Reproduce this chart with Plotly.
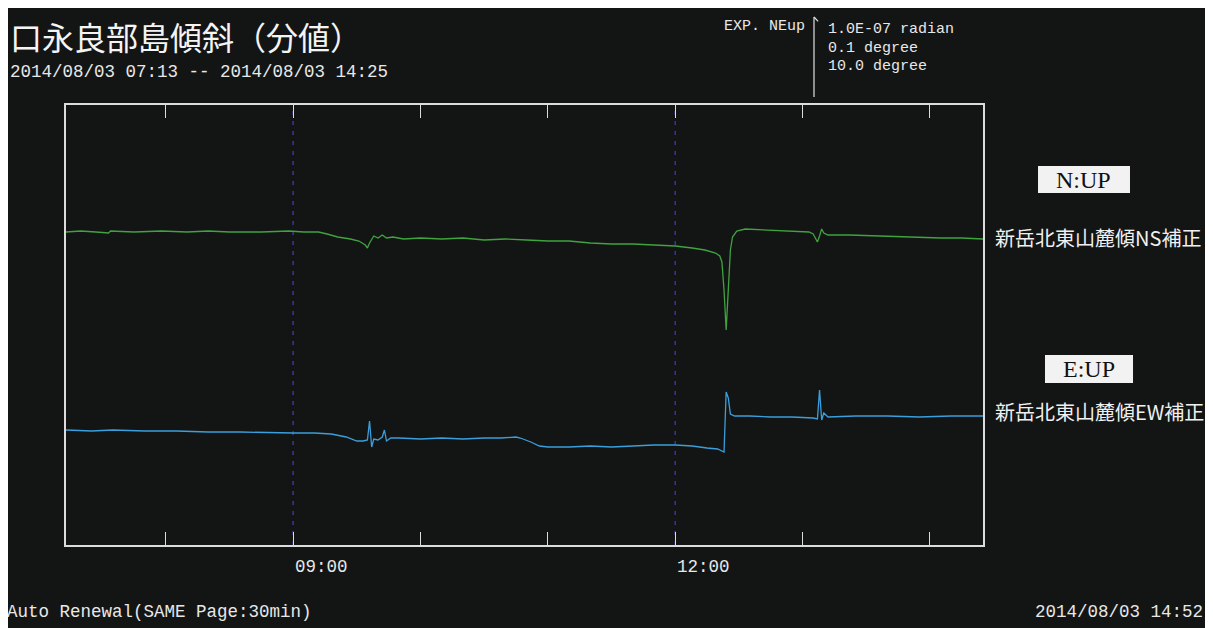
import plotly.graph_objects as go

DATE = "2014-08-03 "

# NS tilt (green), arbitrary tilt units
ns_times = ["07:13","07:20","07:27","07:33","07:34","07:45","07:58","08:10","08:20","08:30",
            "08:45","08:58","09:05","09:12","09:16","09:21","09:27","09:31","09:34","09:35",
            "09:36","09:37","09:38","09:40","09:42","09:44","09:47","09:52","10:00","10:10",
            "10:20","10:30","10:40","10:50","11:00","11:10","11:20","11:30","11:40","11:50",
            "12:00","12:08","12:14","12:19","12:21","12:22","12:23","12:24","12:25","12:26",
            "12:27","12:29","12:33","12:45","12:55","13:03","13:05","13:07","13:08","13:09",
            "13:10","13:12","13:22","13:35","13:50","14:05","14:15","14:25"]
ns_values = [313,314,313,312,314,313,314,313,314,313,
             313,314,313,313,311,308,306,304,300,297,
             302,306,309,307,310,307,308,306,307,306,
             307,305,306,305,304,304,302,301,301,300,
             299,297,295,292,289,283,255,215,253,295,
             308,314,316,315,314,313,311,303,309,316,
             312,310,310,309,308,307,307,306]

# EW tilt (blue)
ew_times = ["07:13","07:25","07:35","07:50","08:05","08:20","08:35","08:50","09:00","09:10",
            "09:18","09:25","09:30","09:33","09:35","09:36","09:37","09:38","09:40","09:42",
            "09:43","09:44","09:46","09:50","10:00","10:10","10:20","10:30","10:38","10:45",
            "10:47","10:52","10:56","11:00","11:10","11:20","11:30","11:40","11:50","12:00",
            "12:08","12:15","12:20","12:23","12:24","12:25","12:26","12:28","12:35","12:45",
            "12:55","13:05","13:07","13:08","13:09","13:10","13:12","13:25","13:40","13:55",
            "14:10","14:25"]
ew_values = [115,114,115,114,114,113,113,112,112,112,
             111,108,104,104,105,124,98,106,105,108,
             115,104,107,107,106,107,106,107,107,108,
             107,103,99,98,98,99,98,99,100,100,
             99,97,96,93,153,147,131,129,129,128,
             128,127,126,155,125,132,128,129,129,128,
             129,129]

x_start = "07:13"
x_end = "14:25"
tick_start = "08:00"
grid_times = ["09:00", "12:00"]
tick_label_times = ["09:00", "12:00"]
tick_labels = ["09:00", "12:00"]

title_text = "口永良部島傾斜（分値）"
subtitle_text = "2014/08/03 07:13 -- 2014/08/03 14:25"
exp_label = "EXP. NEup"
scale_lines = ["1.0E-07 radian", "0.1 degree", "10.0 degree"]
ns_box = "N:UP"
ew_box = "E:UP"
ns_name = "新岳北東山麓傾NS補正"
ew_name = "新岳北東山麓傾EW補正"
footer_left = "Auto Renewal(SAME Page:30min)"
footer_right = "2014/08/03 14:52"

BG = "#131514"
MONO = "Liberation Mono, DejaVu Sans Mono, monospace"
CJK = "Noto Sans CJK JP, Noto Sans, sans-serif"

fig = go.Figure()
fig.add_trace(go.Scatter(x=[DATE + t for t in ns_times], y=ns_values, mode="lines",
                         line=dict(color="#3fa33f", width=1.3), name=ns_name, showlegend=False))
fig.add_trace(go.Scatter(x=[DATE + t for t in ew_times], y=ew_values, mode="lines",
                         line=dict(color="#3a9fdc", width=1.3), name=ew_name, showlegend=False))

shapes = []
for g in grid_times:
    shapes.append(dict(type="line", xref="x", yref="paper", x0=DATE + g, x1=DATE + g, y0=0, y1=1,
                       line=dict(color="#3838aa", width=1.4, dash="4px,6px"), layer="below"))
# scale bracket
shapes.append(dict(type="line", xref="paper", yref="paper", x0=0.8157, x1=0.8157, y0=1.018, y1=1.2,
                   line=dict(color="#e0e0e0", width=1.2)))
shapes.append(dict(type="line", xref="paper", yref="paper", x0=0.8157, x1=0.8202, y0=1.2, y1=1.19,
                   line=dict(color="#e0e0e0", width=1.2)))
# label boxes
shapes.append(dict(type="rect", xref="paper", yref="paper", x0=1.060, x1=1.1603, y0=0.800, y1=0.8614,
                   fillcolor="#f2f2f2", line=dict(width=0)))
shapes.append(dict(type="rect", xref="paper", yref="paper", x0=1.0676, x1=1.1636, y0=0.3682, y1=0.4318,
                   fillcolor="#f2f2f2", line=dict(width=0)))

ann = []
ann.append(dict(text=title_text, xref="paper", yref="paper", x=-0.0633, y=1.156, xanchor="left",
                yanchor="middle", showarrow=False, font=dict(family=CJK, size=32, color="#f4f4f4")))
ann.append(dict(text=subtitle_text, xref="paper", yref="paper", x=-0.0633, y=1.075, xanchor="left",
                yanchor="middle", showarrow=False, font=dict(family=MONO, size=17.5, color="#e8e8e8")))
ann.append(dict(text=exp_label, xref="paper", yref="paper", x=0.7154, y=1.1795, xanchor="left",
                yanchor="middle", showarrow=False, font=dict(family=MONO, size=15, color="#e8e8e8")))
for s, yp in zip(scale_lines, [1.1705, 1.1295, 1.0864]):
    ann.append(dict(text=s, xref="paper", yref="paper", x=0.8288, y=yp, xanchor="left",
                    yanchor="middle", showarrow=False, font=dict(family=MONO, size=15, color="#e8e8e8")))
ann.append(dict(text=ns_box, xref="paper", yref="paper", x=1.1101, y=0.8295, xanchor="center",
                yanchor="middle", showarrow=False, font=dict(family="Liberation Serif, serif", size=24, color="#111")))
ann.append(dict(text=ew_box, xref="paper", yref="paper", x=1.1156, y=0.400, xanchor="center",
                yanchor="middle", showarrow=False, font=dict(family="Liberation Serif, serif", size=24, color="#111")))
ann.append(dict(text=ns_name, xref="paper", yref="paper", x=1.0110, y=0.700, xanchor="left",
                yanchor="middle", showarrow=False, font=dict(family=CJK, size=20, color="#f0f0f0")))
ann.append(dict(text=ew_name, xref="paper", yref="paper", x=1.0110, y=0.3023, xanchor="left",
                yanchor="middle", showarrow=False, font=dict(family=CJK, size=20, color="#f0f0f0")))
for t, lab in zip(tick_label_times, tick_labels):
    ann.append(dict(text=lab, xref="x", yref="paper", x=DATE + t, y=-0.05, xanchor="left",
                    yanchor="middle", showarrow=False, font=dict(family=MONO, size=17.5, color="#e8e8e8")))
ann.append(dict(text=footer_left, xref="paper", yref="paper", x=-0.0665, y=-0.152, xanchor="left",
                yanchor="middle", showarrow=False, font=dict(family=MONO, size=17.5, color="#e8e8e8")))
ann.append(dict(text=footer_right, xref="paper", yref="paper", x=1.242, y=-0.152, xanchor="right",
                yanchor="middle", showarrow=False, font=dict(family=MONO, size=17.5, color="#e8e8e8")))

fig.update_layout(
    width=1201, height=620,
    margin=dict(l=58, r=226, t=97, b=83),
    paper_bgcolor=BG, plot_bgcolor=BG,
    shapes=shapes, annotations=ann,
    xaxis=dict(type="date", range=[DATE + x_start, DATE + x_end], showgrid=False, zeroline=False,
               showline=True, linecolor="#dcdcdc", linewidth=1.5, mirror="ticks",
               ticks="inside", ticklen=13, tickwidth=1.3, tickcolor="#dcdcdc",
               tick0=DATE + tick_start, dtick=3600000, showticklabels=False),
    yaxis=dict(range=[0, 440], showgrid=False, zeroline=False, showline=True,
               linecolor="#dcdcdc", linewidth=1.5, mirror=True, ticks="", showticklabels=False),
)

fig.write_html("out.html")
